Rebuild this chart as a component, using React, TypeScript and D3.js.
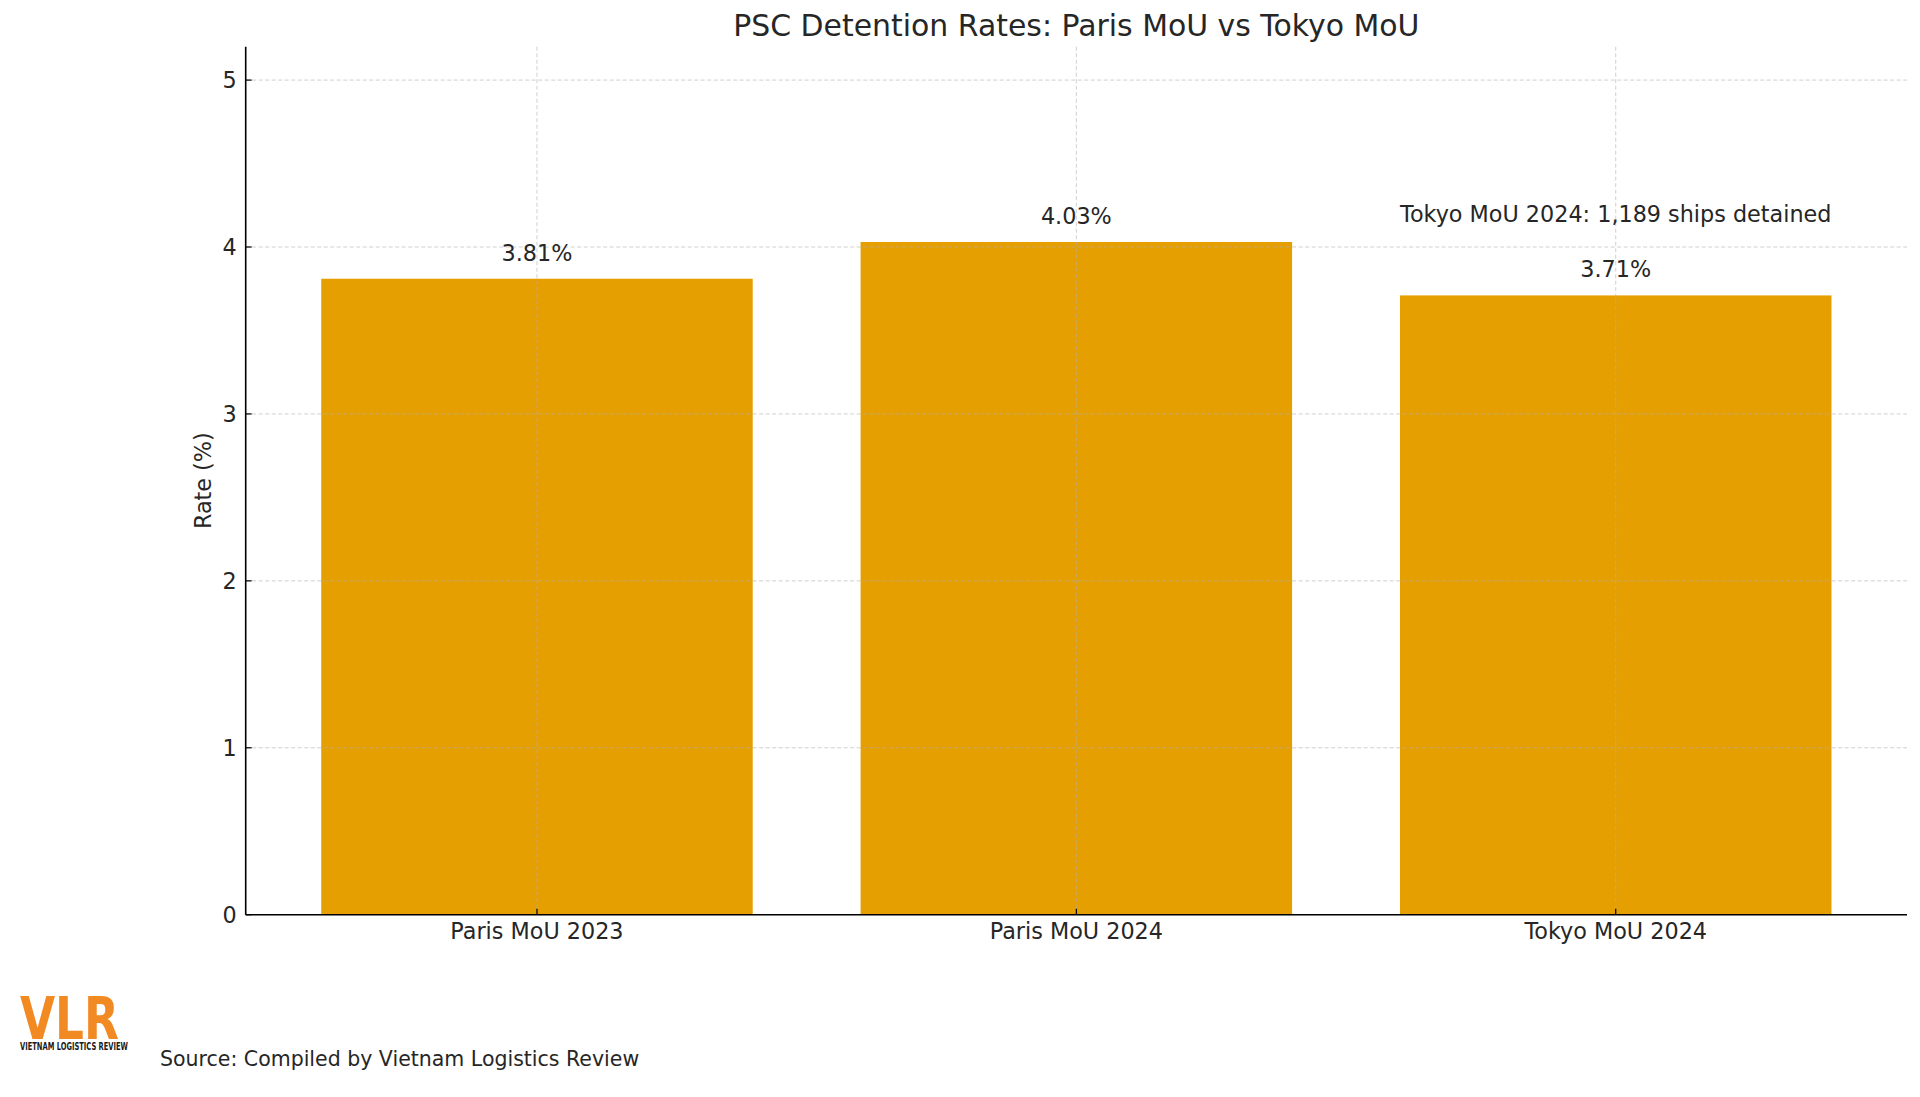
import React from "react";
import * as d3 from "d3";

const categories = ["Paris MoU 2023", "Paris MoU 2024", "Tokyo MoU 2024"];
const rates = [3.81, 4.03, 3.71];
const yTicks = [0, 1, 2, 3, 4, 5];
const title = "PSC Detention Rates: Paris MoU vs Tokyo MoU";
const yLabel = "Rate (%)";
const annotationText = "Tokyo MoU 2024: 1,189 ships detained";
const annotationAt = { index: 2, value: 4.2 };
const sourceText = "Source: Compiled by Vietnam Logistics Review";

const W = 1920;
const H = 1097;
const left = 245.7;
const right = 1907;
const top = 46.7;
const bottom = 914.7;
const FONT = "'DejaVu Sans', sans-serif";
const TEXT = "#262626";
const BAR = "#E69F00";
const FS = 22.3;

export default function App() {
  const x = d3.scaleLinear().domain([-0.54, categories.length - 1 + 0.54]).range([left, right]);
  const y = d3.scaleLinear().domain([0, 5.2]).range([bottom, top]);
  const bw = 0.8;

  return (
    <svg
      width={W}
      height={H}
      viewBox={`0 0 ${W} ${H}`}
      style={{ position: "absolute", left: 0, top: 0, display: "block", background: "#fff" }}
      fontFamily={FONT}
    >
      <rect x={0} y={0} width={W} height={H} fill="#fff" />
      {/* bars */}
      {rates.map((v, i) => (
        <rect
          key={categories[i]}
          x={x(i - bw / 2)}
          y={y(v)}
          width={x(i + bw / 2) - x(i - bw / 2)}
          height={y(0) - y(v)}
          fill={BAR}
        />
      ))}
      {/* grid */}
      {yTicks.map((t) => (
        <line
          key={"gy" + t}
          x1={left}
          x2={right}
          y1={y(t)}
          y2={y(t)}
          stroke="#b0b0b0"
          strokeOpacity={0.6}
          strokeWidth={1}
          strokeDasharray="4,2.5"
        />
      ))}
      {categories.map((c, i) => (
        <line
          key={"gx" + c}
          x1={x(i)}
          x2={x(i)}
          y1={top}
          y2={bottom}
          stroke="#b0b0b0"
          strokeOpacity={0.6}
          strokeWidth={1}
          strokeDasharray="4,2.5"
        />
      ))}
      {/* spines */}
      <line x1={left} x2={left} y1={top} y2={bottom} stroke="#000" strokeWidth={1.6} />
      <line x1={left} x2={right} y1={bottom} y2={bottom} stroke="#000" strokeWidth={1.6} />
      {/* y ticks */}
      {yTicks.map((t) => (
        <g key={"ty" + t}>
          <line x1={left} x2={left + 6} y1={y(t)} y2={y(t)} stroke="#000" strokeWidth={1.2} />
          <text x={left - 9} y={y(t)} dy="0.36em" textAnchor="end" fontSize={FS} fill={TEXT}>
            {t}
          </text>
        </g>
      ))}
      {/* x ticks */}
      {categories.map((c, i) => (
        <g key={"tx" + c}>
          <line x1={x(i)} x2={x(i)} y1={bottom} y2={bottom - 6} stroke="#000" strokeWidth={1.2} />
          <text x={x(i)} y={bottom + 24.5} textAnchor="middle" fontSize={FS} fill={TEXT}>
            {c}
          </text>
        </g>
      ))}
      {/* value labels */}
      {rates.map((v, i) => (
        <text
          key={"lbl" + i}
          x={x(i)}
          y={y(v + 0.1)}
          dy={-1.5}
          textAnchor="middle"
          fontSize={FS}
          fill={TEXT}
        >
          {v.toFixed(2)}%
        </text>
      ))}
      {/* annotation */}
      <text
        x={x(annotationAt.index)}
        y={y(annotationAt.value)}
        dy="0.36em"
        textAnchor="middle"
        fontSize={FS}
        fill={TEXT}
      >
        {annotationText}
      </text>
      {/* title */}
      <text x={(left + right) / 2} y={36} textAnchor="middle" fontSize={29.9} fill={TEXT}>
        {title}
      </text>
      {/* y label */}
      <text
        transform={`translate(${211},${(top + bottom) / 2}) rotate(-90)`}
        textAnchor="middle"
        fontSize={FS}
        fill={TEXT}
      >
        {yLabel}
      </text>
      {/* logo */}
      <text
        x={20}
        y={1038.5}
        fontSize={58}
        fontWeight="bold"
        fontFamily="'Liberation Sans Narrow', 'DejaVu Sans Condensed', 'Roboto Condensed', sans-serif"
        fill="#F28A24"
        textLength={99}
        lengthAdjust="spacingAndGlyphs"
      >
        VLR
      </text>
      <text
        x={20}
        y={1050}
        fontSize={10.5}
        fontWeight="bold"
        fontFamily="'Liberation Sans Narrow', 'DejaVu Sans Condensed', sans-serif"
        fill="#1a1a1a"
        textLength={108}
        lengthAdjust="spacingAndGlyphs"
      >
        VIETNAM LOGISTICS REVIEW
      </text>
      {/* source */}
      <text x={160} y={1066} fontSize={20.5} fill={TEXT}>
        {sourceText}
      </text>
    </svg>
  );
}
